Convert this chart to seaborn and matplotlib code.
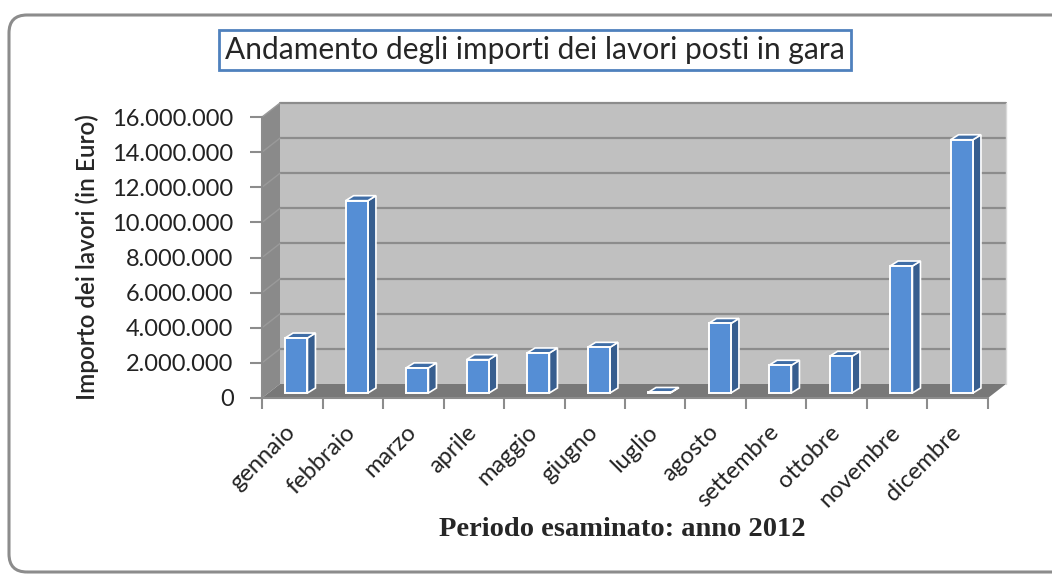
import matplotlib
matplotlib.use("Agg")
import matplotlib.pyplot as plt
import matplotlib.transforms as mtransforms
from matplotlib.patches import Polygon, Rectangle, FancyBboxPatch
from matplotlib.ticker import FixedLocator, FuncFormatter
import seaborn as sns
import pandas as pd

# dati (importi in Euro)
mesi = ["gennaio", "febbraio", "marzo", "aprile", "maggio", "giugno",
        "luglio", "agosto", "settembre", "ottobre", "novembre", "dicembre"]
importi = [3130000, 10950000, 1430000, 1900000, 2280000, 2600000,
           30000, 3960000, 1580000, 2090000, 7230000, 14420000]
y_ticks = [0, 2000000, 4000000, 6000000, 8000000, 10000000,
           12000000, 14000000, 16000000]

titolo = "Andamento degli importi dei lavori posti in gara"
etichetta_y = "Importo dei lavori (in Euro)"
etichetta_x = "Periodo esaminato: anno 2012"

sns.set_theme(style="white")
plt.rcParams["font.family"] = ["Lato", "DejaVu Sans"]

W, H, DPI = 10.52, 5.74, 100
fig = plt.figure(figsize=(W, H), dpi=DPI)
ax = fig.add_axes([262 / 1052, 1 - 398 / 574, (988 - 262) / 1052, (398 - 117) / 574])

df = pd.DataFrame({"mese": mesi, "importo": importi})
sns.barplot(data=df, x="mese", y="importo", color="#558ED5", width=0.37,
            edgecolor="white", linewidth=1.4, saturation=1, ax=ax, zorder=5)

ax.set_ylim(0, 16000000)
ax.set_xlim(-0.5, len(mesi) - 0.5)
ax.patch.set_visible(False)

# profondita' pareti e barre (pixel)
DX, DY = 18, 14
BX, BY = 4, 5
bdx, bdy = 8, 5


def ax_px(xa, ya):
    pos = ax.get_position()
    return ((pos.x0 + xa * pos.width) * W * DPI,
            (pos.y0 + ya * pos.height) * H * DPI)


ident = mtransforms.IdentityTransform()


def aggiungi(artista, z):
    artista.set_transform(ident)
    artista.set_clip_on(False)
    artista.set_zorder(z)
    ax.add_artist(artista)


# parete di fondo, parete sinistra, pavimento
x0, y0 = ax_px(0, 0)
x1, y1 = ax_px(1, 1)
aggiungi(Rectangle((x0 + DX, y0 + DY), x1 - x0, y1 - y0,
                   facecolor="#c0c0c0", edgecolor="none"), 0.1)
aggiungi(Polygon([(x0, y0), (x0, y1), (x0 + DX, y1 + DY), (x0 + DX, y0 + DY)],
                 closed=True, facecolor="#8a8a8a", edgecolor="none"), 0.1)
aggiungi(Polygon([(x0, y0), (x1, y0), (x1 + DX, y0 + DY), (x0 + DX, y0 + DY)],
                 closed=True, facecolor="#787878", edgecolor="none"), 0.2)

# griglia sulla parete di fondo e sulla parete sinistra
for v in y_ticks[1:]:
    _, yy = ax_px(0, v / 16000000)
    aggiungi(plt.Line2D([x0 + DX, x1 + DX], [yy + DY, yy + DY], color="#8c8c8c",
                        linewidth=1.6), 0.3)
    aggiungi(plt.Line2D([x0, x0 + DX], [yy, yy + DY], color="#9a9a9a",
                        linewidth=1.0), 0.3)
aggiungi(plt.Line2D([x1 + DX, x1 + DX], [y0 + DY, y1 + DY], color="#d9d9d9",
                    linewidth=1.0), 0.3)

# effetto 3D sulle barre
fig.canvas.draw()
shift = mtransforms.ScaledTranslation(BX / DPI, BY / DPI, fig.dpi_scale_trans)
for p in list(ax.patches):
    if not isinstance(p, Rectangle) or p.get_zorder() != 5:
        continue
    p.set_transform(ax.transData + shift)
    bx0, by0 = ax.transData.transform((p.get_x(), p.get_y()))
    bx1, by1 = ax.transData.transform((p.get_x() + p.get_width(), p.get_y() + p.get_height()))
    bx0, bx1 = bx0 + BX, bx1 + BX
    by0, by1 = by0 + BY, by1 + BY
    aggiungi(Polygon([(bx1, by0), (bx1, by1), (bx1 + bdx, by1 + bdy), (bx1 + bdx, by0 + bdy)],
                     closed=True, facecolor="#375E8F", edgecolor="white", linewidth=1.2), 4)
    aggiungi(Polygon([(bx0, by1), (bx1, by1), (bx1 + bdx, by1 + bdy), (bx0 + bdx, by1 + bdy)],
                     closed=True, facecolor="#3F6DA6", edgecolor="white", linewidth=1.2), 4)

# assi
for s in ["top", "right"]:
    ax.spines[s].set_visible(False)
for s in ["left", "bottom"]:
    ax.spines[s].set_color("#8c8c8c")
    ax.spines[s].set_linewidth(1.5)

ax.yaxis.set_major_locator(FixedLocator(y_ticks))
ax.yaxis.set_major_formatter(FuncFormatter(lambda v, _: f"{int(v):,}".replace(",", ".")))
ax.tick_params(axis="y", direction="out", length=8.5, width=1.5, color="#8c8c8c",
               labelsize=17, labelcolor="#222222", pad=12, left=True)

ax.set_xticks([i - 0.5 for i in range(len(mesi) + 1)])
ax.set_xticklabels([])
ax.set_xticks(range(len(mesi)), minor=True)
ax.set_xticklabels(mesi, minor=True, rotation=45, ha="right", rotation_mode="anchor")
ax.tick_params(axis="x", which="major", direction="out", length=8, width=1.5,
               color="#8c8c8c", bottom=True)
ax.tick_params(axis="x", which="minor", length=0, labelsize=17, labelcolor="#222222", pad=14)
sposta = mtransforms.ScaledTranslation(-8 / DPI, -4 / DPI, fig.dpi_scale_trans)
for lbl in ax.get_xticklabels(minor=True):
    lbl.set_transform(lbl.get_transform() + sposta)

ax.set_xlabel("")
ax.set_ylabel(etichetta_y, fontsize=17.5, fontweight="semibold")
ax.yaxis.set_label_coords(-0.225, 0.5)

fig.text(622 / 1052, 1 - 530 / 574, etichetta_x, ha="center", va="center",
         fontsize=20.5, fontweight="bold", family=["Liberation Serif", "DejaVu Serif"])

fig.text(535 / 1052, 1 - 50 / 574, titolo, ha="center", va="center", fontsize=21.5,
         bbox=dict(boxstyle="square,pad=0.2", facecolor="white",
                   edgecolor="#4F81BD", linewidth=2))

# cornice arrotondata esterna
fig.patches.append(FancyBboxPatch((9, 2), 1100, 557, boxstyle="round,pad=0,rounding_size=18",
                                  facecolor="none", edgecolor="#8c8c8c", linewidth=2.2,
                                  transform=ident, zorder=0))

fig.savefig("out.png", dpi=DPI)
